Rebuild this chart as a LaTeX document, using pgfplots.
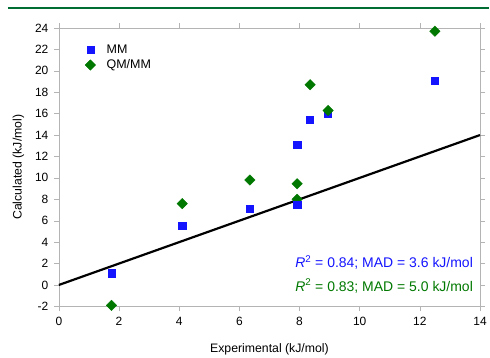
\documentclass[border=0pt]{standalone}
\usepackage{pgfplots}
\pgfplotsset{compat=1.18}
\usepackage{fontspec}
\setmainfont{Liberation Sans}
\definecolor{mmblue}{RGB}{20,20,255}
\definecolor{qmgreen}{RGB}{0,120,0}
\definecolor{topgreen}{RGB}{0,110,50}
\definecolor{axgray}{RGB}{180,180,180}
\begin{document}
\begin{tikzpicture}
\begin{axis}[
  width=422pt, height=279pt, scale only axis,
  xmin=0, xmax=14, ymin=-2, ymax=24,
  xtick={0,2,...,14}, ytick={-2,0,...,24},
  axis line style={axgray},
  tick style={axgray, thin},
  tick align=outside,
  major tick length=5pt,
  /pgf/number format/assume math mode=true,
  ticklabel style={font=\fontsize{12}{13}\selectfont, text=black},
  xticklabel style={yshift=-2pt},
  yticklabel style={xshift=-2pt},
  xlabel={Experimental (kJ/mol)},
  ylabel={Calculated (kJ/mol)},
  label style={font=\fontsize{12.3}{14}\selectfont},
  xlabel style={yshift=-11pt},
  ylabel style={yshift=4pt},
  clip=false,
  legend style={draw=none, fill=none, at={(rel axis cs:0.055,0.955)}, anchor=north west,
    font=\fontsize{12.5}{14}\selectfont, row sep=1pt},
  legend cell align=left,
]
% bounding box and top rule
\path (rel axis cs:-0.1398,-0.1756) rectangle (rel axis cs:1.0213,1.1004);
\draw[topgreen, line width=1.8pt] (rel axis cs:-0.121,1.072) -- (rel axis cs:1.021,1.072);
% hidden QM/MM point (behind MM square)
\addplot[only marks, mark=square*, mark size=3.7pt, mark options={rotate=45}, color=qmgreen, forget plot] coordinates {(7.92,8.0)};
\addplot[only marks, mark=square*, mark size=3.6pt, color=mmblue] coordinates {
(1.75,1.1) (4.1,5.5) (6.35,7.1) (7.92,7.5) (7.92,13.1) (8.35,15.4) (8.95,16.0) (12.5,19.1)};
\addlegendentry{\hspace{9pt}MM}
\addplot[only marks, mark=square*, mark size=3.7pt, mark options={rotate=45}, color=qmgreen] coordinates {
(1.75,-1.9) (4.1,7.6) (6.35,9.8) (7.92,9.45) (8.35,18.7) (8.95,16.3) (12.5,23.7)};
\addlegendentry{\hspace{9pt}QM/MM}
\addplot[black, line width=2.2pt, forget plot] coordinates {(0,0) (14,14)};
\node[anchor=east, text=mmblue, font=\fontsize{14}{16}\selectfont] at (axis cs:13.88,2.1) {\textit{R}\textsuperscript{2} = 0.84; MAD = 3.6 kJ/mol};
\node[anchor=east, text=qmgreen, font=\fontsize{14}{16}\selectfont] at (axis cs:13.88,-0.1) {\textit{R}\textsuperscript{2} = 0.83; MAD = 5.0 kJ/mol};
\end{axis}
\end{tikzpicture}
\end{document}
